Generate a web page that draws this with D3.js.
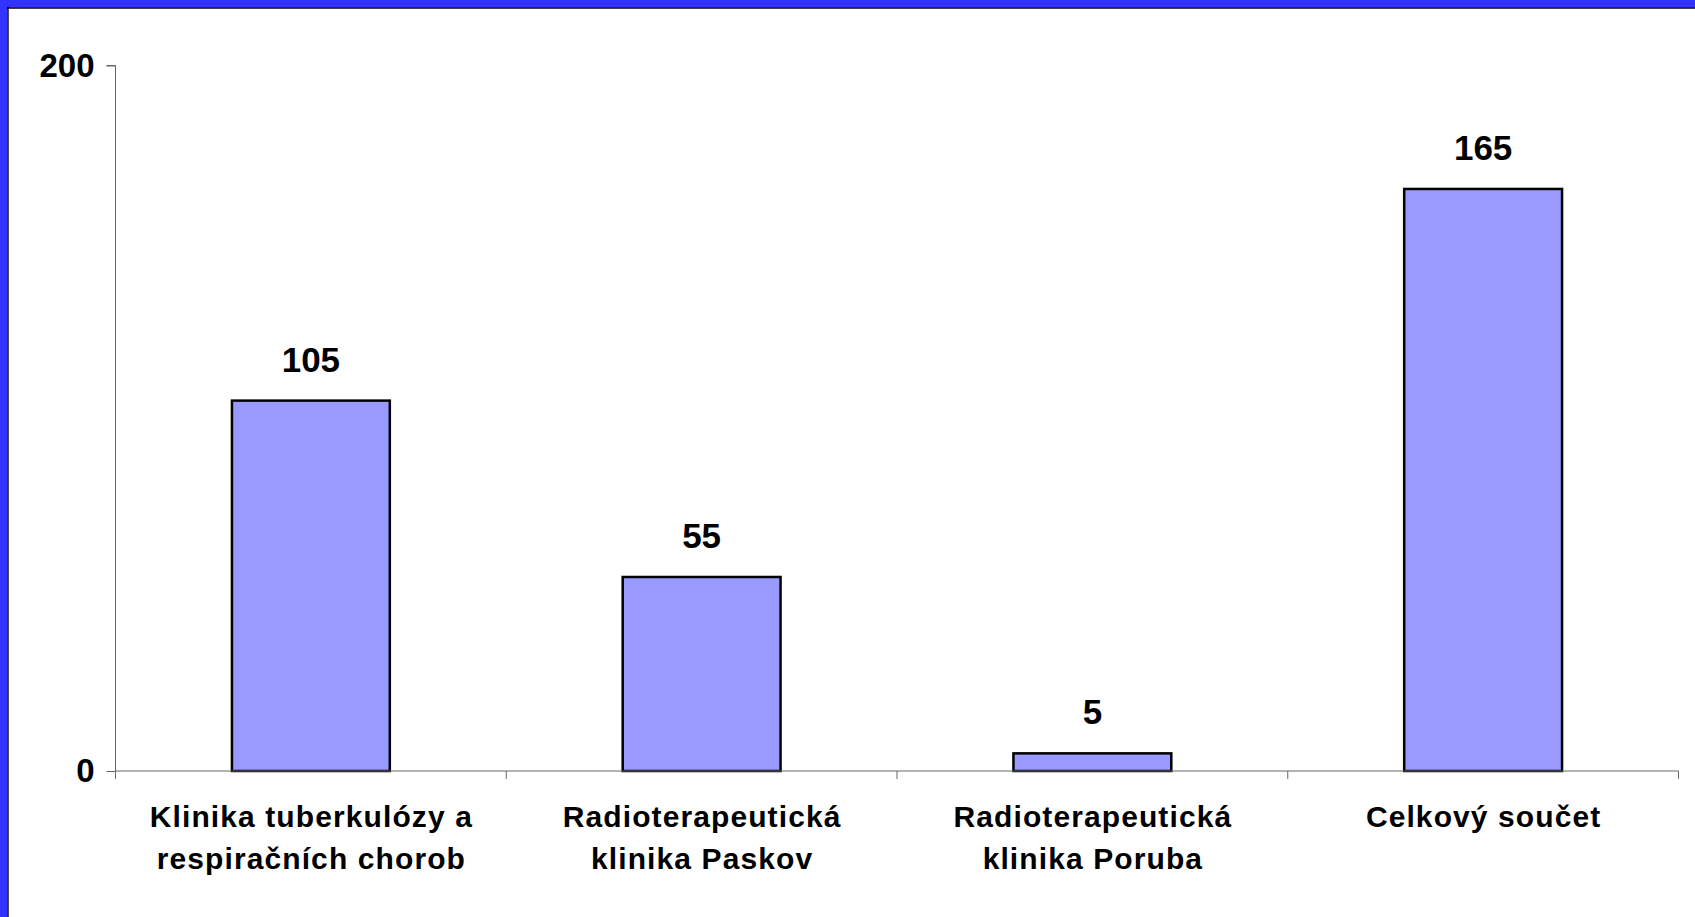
<!DOCTYPE html>
<html>
<head>
<meta charset="utf-8">
<script src="https://cdn.jsdelivr.net/npm/d3@7"></script>
<style>
  html, body { margin: 0; padding: 0; background: #fff; }
  svg { display: block; }
  text { font-family: "Liberation Sans", Arial, sans-serif; font-weight: bold; fill: #000; }
</style>
</head>
<body>
<svg id="chart" width="1695" height="917"></svg>
<script>
const categories = [
  ["Klinika tuberkulózy a", "respiračních chorob"],
  ["Radioterapeutická", "klinika Paskov"],
  ["Radioterapeutická", "klinika Poruba"],
  ["Celkový součet"]
];
const values = [105, 55, 5, 165];
const yTicks = [0, 200];

const svg = d3.select("#chart");
const W = 1695, H = 917;

// frame (blue band top and left with dark inner edge)
svg.append("rect").attr("x", 0).attr("y", 0).attr("width", W).attr("height", H).attr("fill", "#fff");
svg.append("rect").attr("x", 0).attr("y", 0).attr("width", W).attr("height", 7.5).attr("fill", "#3333FF");
svg.append("rect").attr("x", 0).attr("y", 0).attr("width", 7.5).attr("height", H).attr("fill", "#3333FF");
svg.append("line").attr("x1", 7).attr("x2", W).attr("y1", 8).attr("y2", 8).attr("stroke", "#000").attr("stroke-width", 1.4);
svg.append("line").attr("x1", 8).attr("x2", 8).attr("y1", 7).attr("y2", H).attr("stroke", "#000").attr("stroke-width", 1.4);

const x0 = 115.5, x1 = 1678.5, yTop = 65.5, yBot = 771;
const keys = categories.map((c, i) => i);
const x = d3.scaleBand().domain(keys).range([x0, x1]).paddingInner(0).paddingOuter(0);
const y = d3.scaleLinear().domain([0, 200]).range([yBot, yTop]);
const barW = x.bandwidth() * 0.404;

// bars
svg.append("g").selectAll("rect").data(values).join("rect")
  .attr("x", (d, i) => x(i) + x.bandwidth() / 2 - barW / 2)
  .attr("y", d => y(d))
  .attr("width", barW)
  .attr("height", d => yBot - y(d))
  .attr("fill", "#9999FF")
  .attr("stroke", "#000")
  .attr("stroke-width", 2.5);

// y axis
const yAxis = d3.axisLeft(y).tickValues(yTicks).tickSize(9).tickPadding(12);
const gy = svg.append("g").attr("transform", `translate(${x0},0)`).call(yAxis);
gy.select(".domain").attr("stroke", "#666").attr("d", `M-9,${yTop}H0V${yBot + 8}`);
gy.selectAll(".tick line").attr("stroke", "#666");
gy.selectAll(".tick text").attr("font-size", 33).attr("font-family", "Liberation Sans, Arial, sans-serif").attr("font-weight", "bold").attr("fill", "#000");

// x axis line + ticks at band boundaries
const gx = svg.append("g");
gx.append("line").attr("x1", x0).attr("x2", x1).attr("y1", yBot).attr("y2", yBot).attr("stroke", "#666");
const bounds = keys.map(k => x(k)).concat([x1]);
gx.selectAll("line.t").data(bounds).join("line").attr("class", "t")
  .attr("x1", d => d).attr("x2", d => d).attr("y1", yBot).attr("y2", yBot + 8).attr("stroke", "#666");

// category labels
const lab = svg.append("g").selectAll("text").data(categories).join("text")
  .attr("text-anchor", "middle")
  .attr("font-size", 30)
  .style("letter-spacing", "1.1px");
lab.each(function(lines, i) {
  const t = d3.select(this);
  lines.forEach((ln, j) => {
    t.append("tspan").attr("x", x(i) + x.bandwidth() / 2 + 0.5).attr("y", 827 + j * 42).text(ln);
  });
});

// value labels
svg.append("g").selectAll("text").data(values).join("text")
  .attr("x", (d, i) => x(i) + x.bandwidth() / 2)
  .attr("y", d => y(d) - 29)
  .attr("text-anchor", "middle")
  .attr("font-size", 35)
  .text(d => d);
</script>
</body>
</html>
